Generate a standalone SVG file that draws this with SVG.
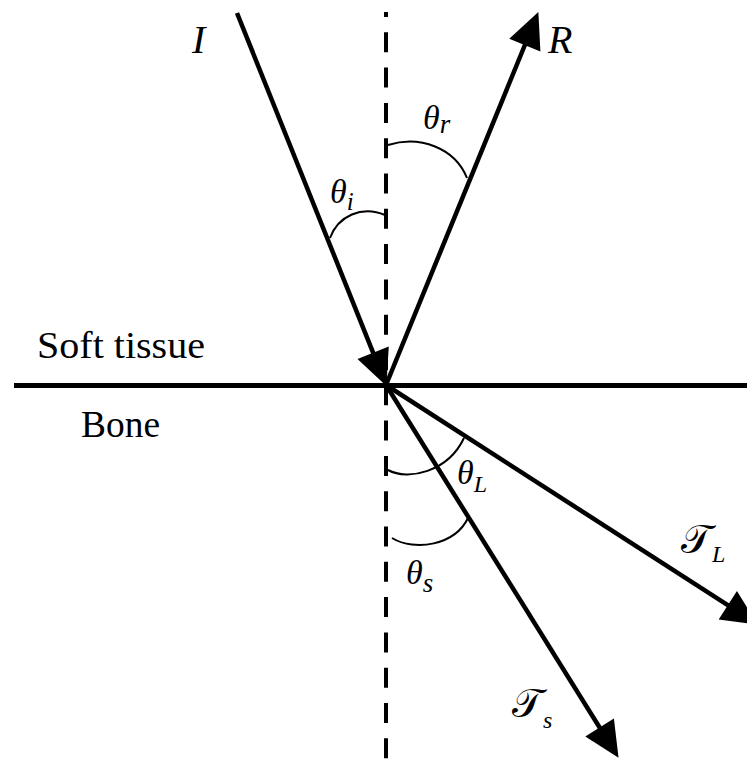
<svg xmlns="http://www.w3.org/2000/svg" width="747" height="760" viewBox="0 0 747 760">
<defs>
<style>
.ray{stroke:#000;stroke-width:4.5;fill:none;stroke-linecap:butt}
.arc{stroke:#000;stroke-width:2;fill:none}
.lbl{font-family:"Liberation Serif","DejaVu Serif",serif;font-style:italic;fill:#000}
.med{font-family:"Liberation Serif","DejaVu Serif",serif;font-size:37px;fill:#000}
.scr{font-family:"DejaVu Serif","DejaVu Sans","Noto Sans",serif;fill:#000}
</style>
<marker id="ah" markerUnits="userSpaceOnUse" markerWidth="40" markerHeight="40" viewBox="-2 -18 38 36" refX="14" refY="0" orient="auto">
<path d="M0,-16 L34,0 L0,16 Z" fill="#000"/>
</marker>
</defs>
<rect width="747" height="760" fill="#fff"/>
<g id="normal">
<line x1="386" y1="12" x2="386" y2="760" stroke="#000" stroke-width="4" stroke-dasharray="20 15.3" stroke-dashoffset="15"/>
</g>
<g id="interface">
<line x1="14" y1="385.5" x2="747" y2="385.5" stroke="#000" stroke-width="5"/>
<text class="med" x="37" y="358" textLength="168" lengthAdjust="spacingAndGlyphs">Soft tissue</text>
<text class="med" x="81" y="437" textLength="79" lengthAdjust="spacingAndGlyphs">Bone</text>
</g>
<g id="connectors">
<line id="ray-I" class="ray" x1="237" y1="13" x2="378.6" y2="366.4" marker-end="url(#ah)"/>
<line id="ray-R" class="ray" x1="386" y1="385" x2="530.4" y2="31.5" marker-end="url(#ah)"/>
<line id="ray-TL" class="ray" x1="386" y1="385" x2="740.2" y2="613.2" marker-end="url(#ah)"/>
<line id="ray-Ts" class="ray" x1="386" y1="385" x2="607.4" y2="740" marker-end="url(#ah)"/>
</g>
<g id="label-I"><text class="lbl" x="192" y="53" font-size="40">I</text></g>
<g id="label-R"><text class="lbl" x="548" y="53" font-size="40">R</text></g>
<g id="angle-i">
<path class="arc" d="M330,238 C338,216 362,205 385,215"/>
<text class="lbl" x="330" y="203" font-size="34">θ<tspan font-size="25" dy="7">i</tspan></text>
</g>
<g id="angle-r">
<path class="arc" d="M388,145 C420,135 455,148 467,178"/>
<text class="lbl" x="423" y="129" font-size="34">θ<tspan font-size="27" dy="4">r</tspan></text>
</g>
<g id="angle-L">
<path class="arc" d="M388,470 C408,481 448,472 464,438"/>
<text class="lbl" x="457" y="484" font-size="34">θ<tspan font-size="24" dy="8">L</tspan></text>
</g>
<g id="angle-s">
<path class="arc" d="M392,538 C415,552 455,545 468,518"/>
<text class="lbl" x="406" y="584" font-size="34">θ<tspan font-size="27" dy="8">s</tspan></text>
</g>
<g id="label-TL"><text class="scr" x="681" y="553" font-size="40">𝒯<tspan class="lbl" font-size="24" dy="9">L</tspan></text></g>
<g id="label-Ts"><text class="scr" x="512" y="717" font-size="40">𝒯<tspan class="lbl" font-size="24" dy="11">s</tspan></text></g>
</svg>
